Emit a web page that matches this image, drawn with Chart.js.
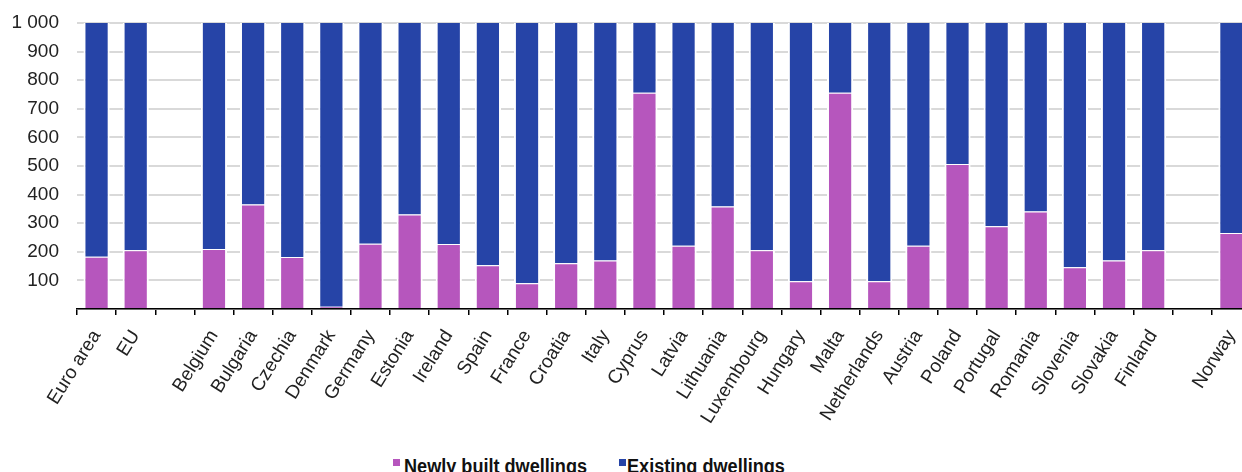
<!DOCTYPE html>
<html>
<head>
<meta charset="utf-8">
<script src="https://cdn.jsdelivr.net/npm/chart.js@4"></script>
<style>
html,body{margin:0;padding:0;overflow:hidden;background:#fff;width:1242px;height:472px;}
#wrap{position:absolute;left:0;top:0;width:1251px;height:440px;}
.lg{position:absolute;font-family:"Liberation Sans Narrow","Arial Narrow","Liberation Sans",sans-serif;font-weight:bold;font-size:20px;line-height:20px;color:#111;white-space:nowrap;transform:scaleX(0.905);transform-origin:0 0;}
.sq{position:absolute;width:7px;height:7px;}
</style>
</head>
<body>
<div id="wrap"><canvas id="c" width="1251" height="440"></canvas></div>
<div class="sq" style="left:393px;top:459px;background:#B656BD"></div>
<div class="lg" style="left:404px;top:456px">Newly built dwellings</div>
<div class="sq" style="left:619px;top:459px;background:#2644A7"></div>
<div class="lg" style="left:627px;top:456px">Existing dwellings</div>
<script>
const categories = ['Euro area','EU','','Belgium','Bulgaria','Czechia','Denmark','Germany','Estonia','Ireland','Spain','France','Croatia','Italy','Cyprus','Latvia','Lithuania','Luxembourg','Hungary','Malta','Netherlands','Austria','Poland','Portugal','Romania','Slovenia','Slovakia','Finland','','Norway'];
const newlyBuilt = [183,205,null,210,365,182,8,228,330,227,153,90,160,170,756,221,358,205,97,756,97,221,507,289,341,146,170,205,null,266];
const existing = [817,795,null,790,635,818,992,772,670,773,847,910,840,830,244,779,642,795,903,244,903,779,493,711,659,854,830,795,null,734];
const seriesNames = ['Newly built dwellings','Existing dwellings'];
const yTickValues = [0,100,200,300,400,500,600,700,800,900,1000];
const yTickLabels = ['','100','200','300','400','500','600','700','800','900','1 000'];

const PINK = '#B656BD', BLUE = '#2644A7';

new Chart(document.getElementById('c'), {
  type: 'bar',
  data: {
    labels: categories,
    datasets: [
      {label: seriesNames[0], data: newlyBuilt, backgroundColor: PINK, borderColor: '#ffffff',
       borderWidth: {left:2,right:2,top:1,bottom:0}, borderSkipped: false},
      {label: seriesNames[1], data: existing, backgroundColor: BLUE, borderColor: '#ffffff',
       borderWidth: {left:2,right:2,top:0,bottom:0}, borderSkipped: false}
    ]
  },
  options: {
    responsive: false,
    animation: false,
    devicePixelRatio: 1,
    layout: {padding: {top: 23, left: 0, right: 0, bottom: 0}},
    plugins: {legend: {display: false}, tooltip: {enabled: false}},
    datasets: {bar: {barPercentage: 0.67, categoryPercentage: 1}},
    scales: {
      x: {
        stacked: true,
        offset: true,
        grid: {offset: true, drawOnChartArea: false, drawTicks: true, tickLength: 6, color: '#000', lineWidth: 1.5},
        border: {display: true, color: '#000', width: 1.5},
        ticks: {
          autoSkip: false, minRotation: 58, maxRotation: 58, padding: 11,
          color: '#222', font: {family: 'Liberation Sans, Arial, sans-serif', size: 19}
        },
        afterFit: s => { s.height = 131; s.paddingLeft = 0; s.paddingRight = 0; }
      },
      y: {
        stacked: true,
        min: 0, max: 1000,
        afterBuildTicks: s => { s.ticks = yTickValues.map(v => ({value: v})); },
        grid: {drawTicks: false, color: '#d9d9d9', lineWidth: 2},
        border: {display: false},
        ticks: {
          padding: 18, color: '#222',
          font: {family: 'Liberation Sans, Arial, sans-serif', size: 19},
          callback: (v) => { const i = yTickValues.indexOf(v); return i >= 0 ? yTickLabels[i] : ''; }
        },
        afterFit: s => { s.width = 77; s.paddingTop = 0; s.paddingBottom = 0; }
      }
    }
  }
});
</script>
</body>
</html>
